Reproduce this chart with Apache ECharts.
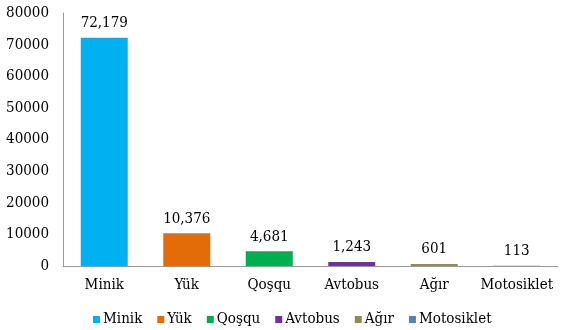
<!DOCTYPE html>
<html>
<head>
<meta charset="utf-8">
<script src="https://cdn.jsdelivr.net/npm/echarts@6/dist/echarts.min.js"></script>
<style>html,body{margin:0;padding:0;background:#fff}#c{width:562px;height:330px}</style>
</head>
<body>
<div id="c"></div>
<script>
const categories = ["Minik", "Yük", "Qoşqu", "Avtobus", "Ağır", "Motosiklet"];
const values = [72179, 10376, 4681, 1243, 601, 113];
const colors = ["#00B0F0", "#E36C09", "#00B050", "#7030A0", "#948A54", "#4F81BD"];
const yTicks = [0, 10000, 20000, 30000, 40000, 50000, 60000, 70000, 80000];

const font = "'DejaVu Serif Condensed', 'DejaVu Serif', serif";
const chart = echarts.init(document.getElementById('c'), null, {renderer: 'canvas'});
const series = categories.map((name, i) => ({
  name: name,
  type: 'bar',
  stack: 'all',
  barWidth: 47,
  itemStyle: {color: colors[i]},
  data: categories.map((c, j) => j === i ? values[i] : '-'),
  label: {
    show: true,
    position: 'top',
    distance: 7,
    color: '#000',
    fontFamily: font,
    fontSize: 15,
    formatter: p => p.value.toLocaleString('en-US')
  }
}));
chart.setOption({
  animation: false,
  textStyle: {fontFamily: font},
  grid: {left: 63, right: 4, top: 13, bottom: 64},
  legend: {
    data: categories,
    left: 88,
    top: 307,
    icon: 'rect',
    itemWidth: 7,
    itemHeight: 7,
    itemGap: 15,
    textStyle: {fontFamily: font, fontSize: 15, color: '#000', padding: [0, 0, 0, -2]}
  },
  xAxis: {
    type: 'category',
    data: categories,
    axisLine: {lineStyle: {color: '#999', width: 1}},
    axisTick: {show: false},
    axisLabel: {fontFamily: font, fontSize: 15, color: '#000', margin: 12, interval: 0}
  },
  yAxis: {
    type: 'value',
    min: yTicks[0],
    max: yTicks[yTicks.length - 1],
    interval: 10000,
    axisLine: {show: true, lineStyle: {color: '#999', width: 1}},
    axisTick: {show: false},
    splitLine: {show: false},
    axisLabel: {fontFamily: font, fontSize: 15, color: '#000', margin: 14, formatter: v => String(v)}
  },
  series: series
});
</script>
</body>
</html>
